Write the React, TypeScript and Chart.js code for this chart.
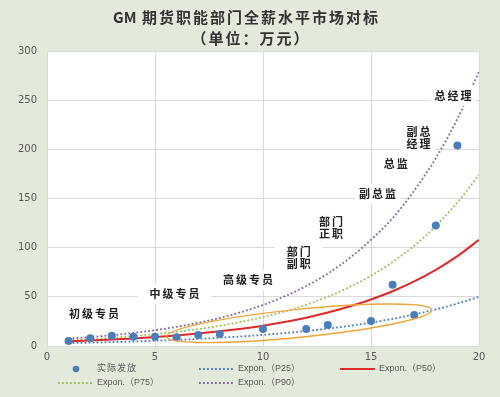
import React, { useEffect, useRef } from 'react';
import { Chart, registerables } from 'chart.js';

Chart.register(...registerables);

// ---------- data ----------
const titleLatin = 'GM';
const titleLines = ['期货职能部门全薪水平市场对标', '（单位：万元）'];

const seriesNames = ['实际发放', 'Expon.（P25）', 'Expon.（P50）', 'Expon.（P75）', 'Expon.（P90）'];

// actual paid (blue dots)
const actualX = [1, 2, 3, 4, 5, 6, 7, 8, 10, 12, 13, 15, 16, 17, 18, 19];
const actualY = [5, 7.8, 10.5, 9.5, 9.5, 8.9, 11.2, 12.2, 17.3, 17.3, 21.4, 25.4, 62.4, 31.5, 122.6, 204];

// trend lines, read at each grade position
const trendX = [1, 2, 3, 4, 5, 6, 7, 8, 9, 10, 11, 12, 13, 14, 15, 16, 17, 18, 19, 20];
const p25 = [3.0, 3.4, 4.0, 4.6, 5.4, 6.2, 7.2, 8.4, 9.7, 11.3, 13.1, 15.2, 17.7, 20.5, 23.8, 27.6, 32.1, 37.2, 43.2, 50];
const p50 = [4.7, 5.5, 6.5, 7.7, 9.1, 10.7, 12.6, 14.9, 17.6, 20.7, 24.4, 28.8, 34.0, 40.1, 47.3, 55.7, 65.7, 77.5, 91.4, 108];
const p75 = [5.9, 7.1, 8.4, 10.1, 12.1, 14.4, 17.2, 20.6, 24.6, 29.4, 35.1, 41.9, 50.1, 59.9, 71.5, 85.4, 102, 122, 146, 174];
const p90 = [7.6, 9.1, 11.0, 13.3, 16.1, 19.5, 23.6, 28.5, 34.5, 41.7, 50.4, 61.0, 73.7, 89.2, 108, 130, 158, 191, 231, 279];

// axes
const xMin = 0, xMax = 20, xStep = 5;
const yMin = 0, yMax = 300, yStep = 50;

// grade annotations (text, anchored in data coordinates)
const gradeTexts = [['总经理'], ['副总', '经理'], ['总监'], ['副总监'], ['部门', '正职'], ['部门', '副职'], ['高级专员'], ['中级专员'], ['初级专员']];
const gradeX = [18.8, 17.2, 16.15, 15.3, 13.15, 11.65, 9.3, 5.9, 2.18];
const gradeY = [254, 211.5, 185, 154.6, 120.5, 90, 67, 53, 32.6];

// highlight ellipse (major-axis ends in data coords)
const ellipseEnds = [[5.54, 9.5], [17.81, 36.6]];

// ---------- styles ----------
const BG = '#e3eadb';
const labelPadX = [4, 5, 5, 4, 5, 12, 6, 12, 6];
const ELLIPSE_MINOR = 14;

const decorPlugin = {
  id: 'decor',
  beforeDraw(chart: any) {
    const { ctx, chartArea: a, width, height } = chart;
    ctx.save();
    ctx.fillStyle = BG;
    ctx.fillRect(0, 0, width, height);
    ctx.fillStyle = '#ffffff';
    ctx.fillRect(a.left, a.top, a.right - a.left, a.bottom - a.top);
    ctx.restore();
  },
  afterDatasetsDraw(chart: any) {
    const { ctx } = chart;
    const xs = chart.scales.x, ys = chart.scales.y;
    // ellipse
    const x1 = xs.getPixelForValue(ellipseEnds[0][0]);
    const y1 = ys.getPixelForValue(ellipseEnds[0][1]);
    const x2 = xs.getPixelForValue(ellipseEnds[1][0]);
    const y2 = ys.getPixelForValue(ellipseEnds[1][1]);
    ctx.save();
    ctx.beginPath();
    ctx.ellipse((x1 + x2) / 2, (y1 + y2) / 2, Math.hypot(x2 - x1, y2 - y1) / 2, ELLIPSE_MINOR, Math.atan2(y2 - y1, x2 - x1), 0, Math.PI * 2);
    ctx.strokeStyle = '#eea53c';
    ctx.lineWidth = 1.4;
    ctx.stroke();
    ctx.restore();

    // grade labels
    ctx.save();
    ctx.font = 'bold 11px "Noto Sans CJK SC"';
    (ctx as any).letterSpacing = '2px';
    ctx.textBaseline = 'middle';
    ctx.textAlign = 'left';
    const lineH = 12;
    gradeTexts.forEach((lines, i) => {
      const cx = xs.getPixelForValue(gradeX[i]);
      const cy = ys.getPixelForValue(gradeY[i]);
      const widths = lines.map((l) => ctx.measureText(l).width - 2);
      const w = Math.max(...widths);
      const h = lines.length * lineH;
      const px = labelPadX[i];
      ctx.fillStyle = '#ffffff';
      ctx.fillRect(cx - w / 2 - px, cy - h / 2 - 4, w + px * 2, h + 8);
      ctx.fillStyle = '#222222';
      lines.forEach((l, j) => {
        ctx.fillText(l, cx - widths[j] / 2, cy - h / 2 + lineH * (j + 0.5));
      });
    });
    ctx.restore();
  },
  afterDraw(chart: any) {
    const { ctx } = chart;
    // title
    ctx.save();
    ctx.fillStyle = '#333333';
    ctx.textBaseline = 'middle';
    ctx.textAlign = 'left';
    ctx.font = 'bold 15px "Noto Sans CJK SC"';
    (ctx as any).letterSpacing = '0px';
    ctx.fillText(titleLatin, 113, 17);
    (ctx as any).letterSpacing = '2px';
    ctx.fillText(titleLines[0], 142, 17);
    ctx.textAlign = 'center';
    ctx.fillText(titleLines[1], 251, 38);
    ctx.restore();

    // legend
    ctx.save();
    const cols = [58, 199, 340];
    const rows = [369, 383];
    ctx.font = '9px "Liberation Sans", "Noto Sans CJK SC"';
    ctx.textBaseline = 'middle';
    ctx.textAlign = 'left';
    chart.data.datasets.forEach((ds: any, i: number) => {
      const x = cols[i % 3];
      const y = rows[Math.floor(i / 3)];
      if (ds.showLine === false) {
        ctx.beginPath();
        ctx.arc(x + 18, y, 3.3, 0, Math.PI * 2);
        ctx.fillStyle = ds.backgroundColor;
        ctx.fill();
      } else {
        ctx.beginPath();
        ctx.setLineDash(ds.borderDash || []);
        ctx.strokeStyle = ds.borderColor;
        ctx.lineWidth = ds.borderWidth;
        ctx.moveTo(x, y);
        ctx.lineTo(x + 35, y);
        ctx.stroke();
        ctx.setLineDash([]);
      }
      ctx.fillStyle = '#595959';
      if (i === 0) (ctx as any).letterSpacing = '1px';
      else (ctx as any).letterSpacing = '0px';
      ctx.fillText(ds.label, x + 39, y);
    });
    ctx.restore();
  },
};

function trend(label: string, ys: number[], color: string, width: number, dash: number[]) {
  return {
    label,
    data: trendX.map((x, i) => ({ x, y: ys[i] })),
    borderColor: color,
    backgroundColor: color,
    borderWidth: width,
    borderDash: dash,
    pointRadius: 0,
    cubicInterpolationMode: 'monotone' as const,
    fill: false,
  };
}

export default function App() {
  const ref = useRef<HTMLCanvasElement>(null);
  useEffect(() => {
    if (!ref.current) return;
    const chart = new Chart(ref.current, {
      type: 'line',
      data: {
        datasets: [
          {
            label: seriesNames[0],
            data: actualX.map((x, i) => ({ x, y: actualY[i] })),
            showLine: false,
            pointRadius: 4,
            pointHoverRadius: 4,
            backgroundColor: '#4a7ebb',
            borderColor: '#4a7ebb',
            borderWidth: 0,
          } as any,
          trend(seriesNames[1], p25, '#4a7ebb', 1.8, [1.8, 2.2]),
          trend(seriesNames[2], p50, '#dd2a2a', 2, []),
          trend(seriesNames[3], p75, '#9bbb59', 1.8, [1.8, 2.2]),
          trend(seriesNames[4], p90, '#8064a2', 1.8, [1.8, 2.2]),
        ],
      },
      options: {
        responsive: false,
        animation: false,
        devicePixelRatio: 1,
        layout: { padding: { top: 51, right: 21, left: 0, bottom: 0 } },
        plugins: { legend: { display: false }, title: { display: false }, tooltip: { enabled: false } },
        scales: {
          x: {
            type: 'linear',
            min: xMin,
            max: xMax,
            ticks: { stepSize: xStep, color: '#595959', font: { size: 10, family: '"DejaVu Sans"' }, padding: 5 },
            grid: { color: '#d9d9d9', drawTicks: false },
            border: { display: false },
            afterFit: (s: any) => { s.height = 51; },
          },
          y: {
            type: 'linear',
            min: yMin,
            max: yMax,
            ticks: { stepSize: yStep, color: '#595959', font: { size: 10, family: '"DejaVu Sans"' }, padding: 10 },
            grid: { color: '#d9d9d9', drawTicks: false },
            border: { display: false },
            afterFit: (s: any) => { s.width = 47; },
          },
        },
      },
      plugins: [decorPlugin],
    });
    return () => chart.destroy();
  }, []);
  return (
    <div style={{ position: 'fixed', left: 0, top: 0, width: 500, height: 397 }}>
      <canvas ref={ref} width={500} height={397} />
    </div>
  );
}
